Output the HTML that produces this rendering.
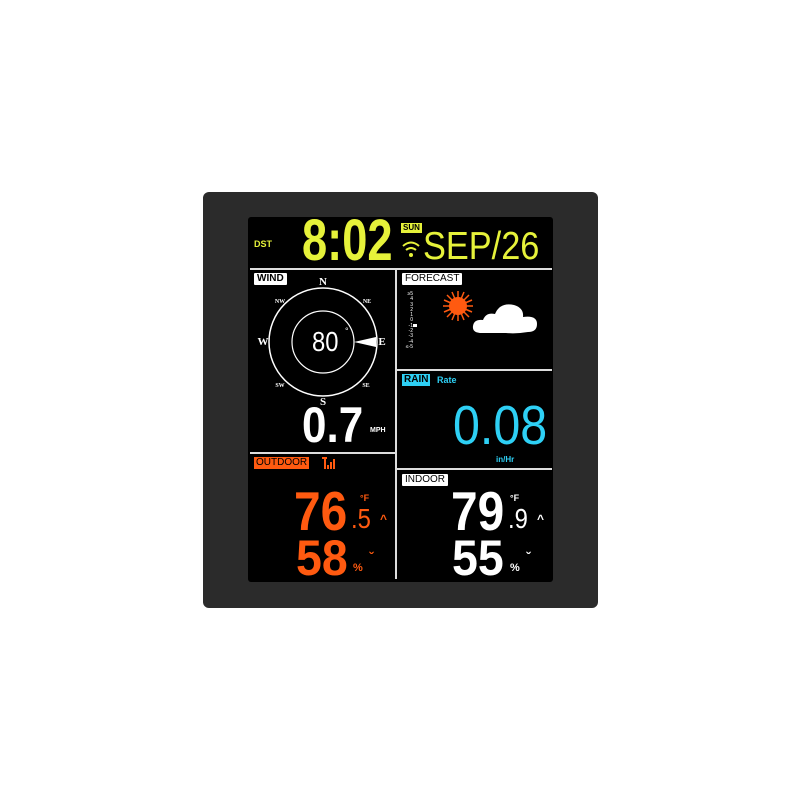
<!DOCTYPE html>
<html><head><style>
body{margin:0;width:800px;height:800px;background:#fff;position:relative;overflow:hidden;font-family:"Liberation Sans",sans-serif}
.a{position:absolute}
.seg{font-family:"Liberation Sans",sans-serif;font-weight:bold;white-space:nowrap;transform-origin:left top}
.lbl{position:absolute;background:#fff;color:#000;font-size:10px;padding:0 3px;line-height:12px;border-radius:1px}
</style></head><body>
<div class="a" style="left:203px;top:192px;width:395px;height:416px;background:#2b2b2b;border-radius:6px"></div>
<div class="a" style="left:248px;top:217px;width:305px;height:365px;background:#000;border-radius:3px"></div>
<div class="a" style="left:250px;top:268px;width:302px;height:2px;background:#ddd"></div>
<div class="a" style="left:395px;top:270px;width:2px;height:309px;background:#ddd"></div>
<div class="a" style="left:250px;top:452px;width:145px;height:2px;background:#ddd"></div>
<div class="a" style="left:397px;top:369px;width:155px;height:2px;background:#ddd"></div>
<div class="a" style="left:397px;top:468px;width:155px;height:2px;background:#ddd"></div>
<!-- top -->
<div class="a" style="left:254px;top:239px;color:#e6f23a;font-size:9px;font-weight:bold">DST</div>
<div class="a seg" style="left:302px;top:212px;color:#e6f23a;font-size:58px;line-height:58px;transform:scaleX(0.78)">8:02</div>
<div class="a" style="left:401px;top:223px;background:#e6f23a;color:#000;font-size:8px;font-weight:bold;padding:0 2px;line-height:10px">SUN</div>
<svg class="a" style="left:400px;top:236px" width="22" height="26"><g fill="none" stroke="#e6f23a" stroke-width="2"><path d="M3 10 Q11 3 19 10"/><path d="M6 14 Q11 10 16 14"/></g><circle cx="11" cy="19" r="2" fill="#e6f23a"/></svg>
<div class="a seg" style="left:423px;top:227px;color:#e6f23a;font-size:39px;line-height:40px;font-weight:normal;transform:scaleX(0.88)">SEP/26</div>
<!-- wind -->
<div class="lbl" style="left:254px;top:273px;font-weight:bold">WIND</div>
<svg class="a" style="left:250px;top:270px" width="146" height="140">
<circle cx="73" cy="72" r="54" fill="none" stroke="#fff" stroke-width="1.5"/>
<circle cx="73" cy="72" r="31" fill="none" stroke="#fff" stroke-width="1.2"/>
<g font-family="Liberation Serif" font-weight="bold" fill="#fff" text-anchor="middle">
<text x="73" y="15" font-size="11">N</text><text x="73" y="135" font-size="11">S</text>
<text x="13" y="75" font-size="11">W</text><text x="132" y="75" font-size="11">E</text>
<text x="30" y="33" font-size="6">NW</text><text x="117" y="33" font-size="6">NE</text>
<text x="30" y="117" font-size="6">SW</text><text x="116" y="117" font-size="6">SE</text>
</g>
<polygon points="104,72 126,67 126,77" fill="#fff"/>
</svg>
<div class="a seg" style="left:312px;top:328px;color:#fff;font-size:28px;line-height:28px;font-weight:normal;transform:scaleX(0.85)">80</div>
<div class="a" style="left:345px;top:326px;color:#fff;font-size:9px">°</div>
<div class="a seg" style="left:302px;top:400px;color:#fff;font-size:50px;line-height:50px;transform:scaleX(0.88)">0.7</div>
<div class="a" style="left:370px;top:427px;color:#fff;font-size:7px;font-weight:bold">MPH</div>
<!-- forecast -->
<div class="lbl" style="left:402px;top:273px">FORECAST</div>
<div class="a" style="left:401px;top:292px;color:#fff;font-size:5px;line-height:5.3px;width:12px;text-align:right;white-space:nowrap">≥5<br>4<br>3<br>2<br>1<br>0<br>-1<br>-2<br>-3<br>-4<br>≤-5</div>
<div class="a" style="left:413px;top:324px;width:4px;height:3px;background:#fff"></div>
<svg class="a" style="left:440px;top:290px" width="110" height="50">
<g stroke="#ff5a10" stroke-width="1.5"><line x1="18" y1="1" x2="18" y2="31"/><line x1="3" y1="16" x2="33" y2="16"/><line x1="7" y1="5" x2="29" y2="27"/><line x1="29" y1="5" x2="7" y2="27"/><line x1="12" y1="2" x2="24" y2="30"/><line x1="24" y1="2" x2="12" y2="30"/><line x1="4" y1="10" x2="32" y2="22"/><line x1="4" y1="22" x2="32" y2="10"/></g>
<circle cx="18" cy="16" r="9" fill="#ff5a10"/>
<path d="M42 43 Q32 43 33 36 Q34 29 43 30 Q46 22 55 24 Q60 12 74 15 Q84 18 83 27 Q97 25 97 34 Q97 42 88 42 Q76 44 66 43 Z" fill="#fff"/>
</svg>
<!-- rain -->
<div class="a" style="left:402px;top:374px;background:#2ed0f5;color:#000;font-size:10px;font-weight:bold;padding:0 2px;line-height:12px">RAIN</div>
<div class="a" style="left:437px;top:375px;color:#2ed0f5;font-size:9px;font-weight:bold">Rate</div>
<div class="a seg" style="left:453px;top:397px;color:#2ed0f5;font-size:55px;line-height:56px;font-weight:normal;transform:scaleX(0.88)">0.08</div>
<div class="a" style="left:496px;top:455px;color:#2ed0f5;font-size:8px;font-weight:bold">in/Hr</div>
<!-- outdoor -->
<div class="a" style="left:254px;top:457px;background:#ff5a10;color:#000;font-size:10px;padding:0 2px;line-height:12px">OUTDOOR</div>
<div class="a" style="left:322px;top:457px;width:15px;height:12px">
<div class="a" style="left:0;top:0;width:5px;height:2px;background:#ff5a10"></div>
<div class="a" style="left:2px;top:0;width:1.5px;height:12px;background:#ff5a10"></div>
<div class="a" style="left:5px;top:8px;width:2px;height:4px;background:#ff5a10"></div>
<div class="a" style="left:8px;top:5px;width:2px;height:7px;background:#ff5a10"></div>
<div class="a" style="left:11px;top:2px;width:2px;height:10px;background:#ff5a10"></div></div>
<div class="a seg" style="left:294px;top:484px;color:#ff5a10;font-size:55px;line-height:55px;transform:scaleX(0.87)">76</div>
<div class="a seg" style="left:351px;top:505px;color:#ff5a10;font-size:28px;line-height:28px;font-weight:normal;transform:scaleX(0.85)">.5</div>
<div class="a" style="left:360px;top:493px;color:#ff5a10;font-size:9px;font-weight:bold">°F</div>
<div class="a" style="left:380px;top:512px;color:#ff5a10;font-size:12px;font-weight:bold">^</div>
<div class="a seg" style="left:296px;top:533px;color:#ff5a10;font-size:50px;line-height:50px;transform:scaleX(0.93)">58</div>
<div class="a" style="left:353px;top:562px;color:#ff5a10;font-size:11px;font-weight:bold">%</div>
<div class="a" style="left:369px;top:549px;color:#ff5a10;font-size:14px;font-weight:bold">ˇ</div>
<!-- indoor -->
<div class="lbl" style="left:402px;top:474px">INDOOR</div>
<div class="a seg" style="left:451px;top:484px;color:#fff;font-size:55px;line-height:55px;transform:scaleX(0.87)">79</div>
<div class="a seg" style="left:508px;top:505px;color:#fff;font-size:28px;line-height:28px;font-weight:normal;transform:scaleX(0.85)">.9</div>
<div class="a" style="left:510px;top:493px;color:#fff;font-size:9px;font-weight:bold">°F</div>
<div class="a" style="left:537px;top:512px;color:#fff;font-size:12px;font-weight:bold">^</div>
<div class="a seg" style="left:452px;top:533px;color:#fff;font-size:50px;line-height:50px;transform:scaleX(0.93)">55</div>
<div class="a" style="left:510px;top:562px;color:#fff;font-size:11px;font-weight:bold">%</div>
<div class="a" style="left:526px;top:549px;color:#fff;font-size:14px;font-weight:bold">ˇ</div>
</body></html>
